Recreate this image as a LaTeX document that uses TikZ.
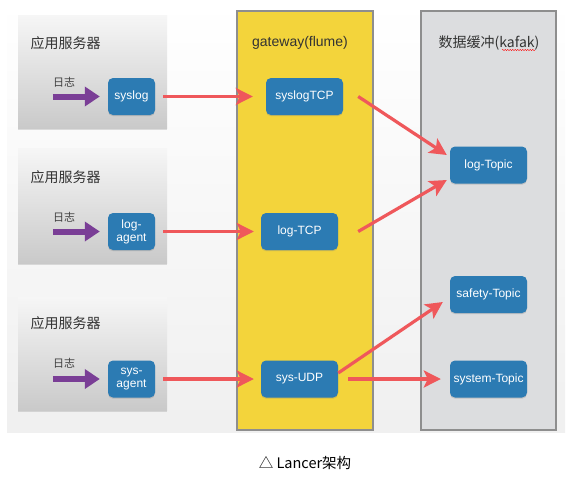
\documentclass[tikz,border=0pt]{standalone}
\usepackage{fontspec}
\setmainfont{Liberation Sans}
\newfontfamily\cjk{Noto Sans CJK SC}
\usetikzlibrary{arrows.meta, shadows, decorations.pathmorphing}

\definecolor{boxblue}{HTML}{2C7BB3}
\definecolor{gwyellow}{HTML}{F3D43B}
\definecolor{mqgray}{HTML}{DCDDDF}
\definecolor{edgegray}{HTML}{8E8E8E}
\definecolor{arrowred}{HTML}{EF585B}
\definecolor{logpurple}{HTML}{7A3E96}

\begin{document}
\begin{tikzpicture}[x = 1pt, y = -1pt,
 server/.style = {minimum width=149pt, minimum height=113pt, top color=gray!7, bottom color=gray!42,
   drop shadow={shadow xshift=0pt, shadow yshift=-1.5pt, opacity=.25}},
 module/.style = {rounded corners=5pt, fill=boxblue, text=white, minimum width=#1, minimum height=37pt,
   inner sep=1pt, align=center, font=\fontsize{12}{13}\selectfont,
   drop shadow={shadow xshift=0pt, shadow yshift=-1.2pt, opacity=.3}},
 module/.default = 77pt,
 layer/.style = {draw=edgegray, line width=1.2pt, minimum width=136pt, minimum height=419pt},
 title/.style = {text=black!80, font=\fontsize{14}{16}\selectfont},
 flow/.style = {draw=arrowred, line width=3.2pt, -{Stealth[length=17pt, width=17pt, inset=4pt]}},
 feed/.style = {draw=logpurple, line width=6pt, -{Triangle[length=15pt, width=19pt]}}]
 \useasboundingbox (0,0) rectangle (569,490);
 \shade[top color=white, bottom color=gray!12] (7,0) rectangle (565,432);

 \node[layer, fill=gwyellow] (gateway) at (305,220.5) {};
 \node[layer, fill=mqgray, minimum width=135pt] (kafka) at (488.5,220.5) {};
 \node[title] (gwTitle) at (300,43) {gateway(flume)};
 \node[title] (mqTitle) at (489,43) {\cjk 数据缓冲(kafak)};
 \draw[red, decorate, decoration={snake, amplitude=.6pt, segment length=2.5pt}] (502,50) -- (535,50);%スペルチェックの波線

 \node[server] (srvA) at (92.5,71.5) {};
 \node[server, minimum height=115pt] (srvB) at (92.5,205.5) {};
 \node[server] (srvC) at (92.5,353.5) {};
 \node[title, anchor=west] (srvAtitle) at (27,43) {\cjk 应用服务器};
 \node[title, anchor=west] (srvBtitle) at (27,177) {\cjk 应用服务器};
 \node[title, anchor=west] (srvCtitle) at (27,323) {\cjk 应用服务器};

 \node[module=47pt] (syslog) at (131.5,96.5) {syslog};
 \node[module=47pt] (logAgent) at (131.5,231.5) {log-\\agent};
 \node[module=47pt] (sysAgent) at (131.5,379) {sys-\\agent};
 \node[module] (syslogTCP) at (304.5,96.5) {syslogTCP};
 \node[module] (logTCP) at (299.5,231.5) {log-TCP};
 \node[module] (sysUDP) at (299.5,379) {sys-UDP};
 \node[module] (logTopic) at (488.5,165) {log-Topic};
 \node[module] (safetyTopic) at (488.5,294.5) {safety-Topic};
 \node[module] (systemTopic) at (488.5,379) {system-Topic};

 \node[text=black!75, font=\cjk\fontsize{11}{12}\selectfont] (logA) at (64,82) {日志};
 \node[text=black!75, font=\cjk\fontsize{11}{12}\selectfont] (logB) at (64,217) {日志};
 \node[text=black!75, font=\cjk\fontsize{11}{12}\selectfont] (logC) at (64,363) {日志};
 \draw[feed] ([xshift=-55pt]syslog.west) -- ([xshift=-8pt]syslog.west);
 \draw[feed] ([xshift=-55pt]logAgent.west) -- ([xshift=-8pt]logAgent.west);
 \draw[feed] ([xshift=-55pt]sysAgent.west) -- ([xshift=-8pt]sysAgent.west);

 \draw[flow] ([xshift=8pt]syslog.east) -- ([xshift=-13pt]syslogTCP.west);
 \draw[flow] ([xshift=8pt]logAgent.east) -- ([xshift=-7pt]logTCP.west);
 \draw[flow] ([xshift=8pt]sysAgent.east) -- ([xshift=-7pt]sysUDP.west);
 \draw[flow] ([xshift=15pt]syslogTCP.east) -- ([shift={(-3pt,10pt)}]logTopic.west);
 \draw[flow] ([xshift=20pt]logTCP.east) -- ([shift={(-3pt,-15pt)}]logTopic.west);
 \draw[flow] ([yshift=6pt]sysUDP.east) -- ([shift={(-7pt,-7.5pt)}]safetyTopic.west);
 \draw[flow] ([xshift=10pt]sysUDP.east) -- ([xshift=-9pt]systemTopic.west);

 \node[font=\cjk\fontsize{14.5}{16}\selectfont] (caption) at (305,463) {△ Lancer架构};
\end{tikzpicture}
\end{document}
